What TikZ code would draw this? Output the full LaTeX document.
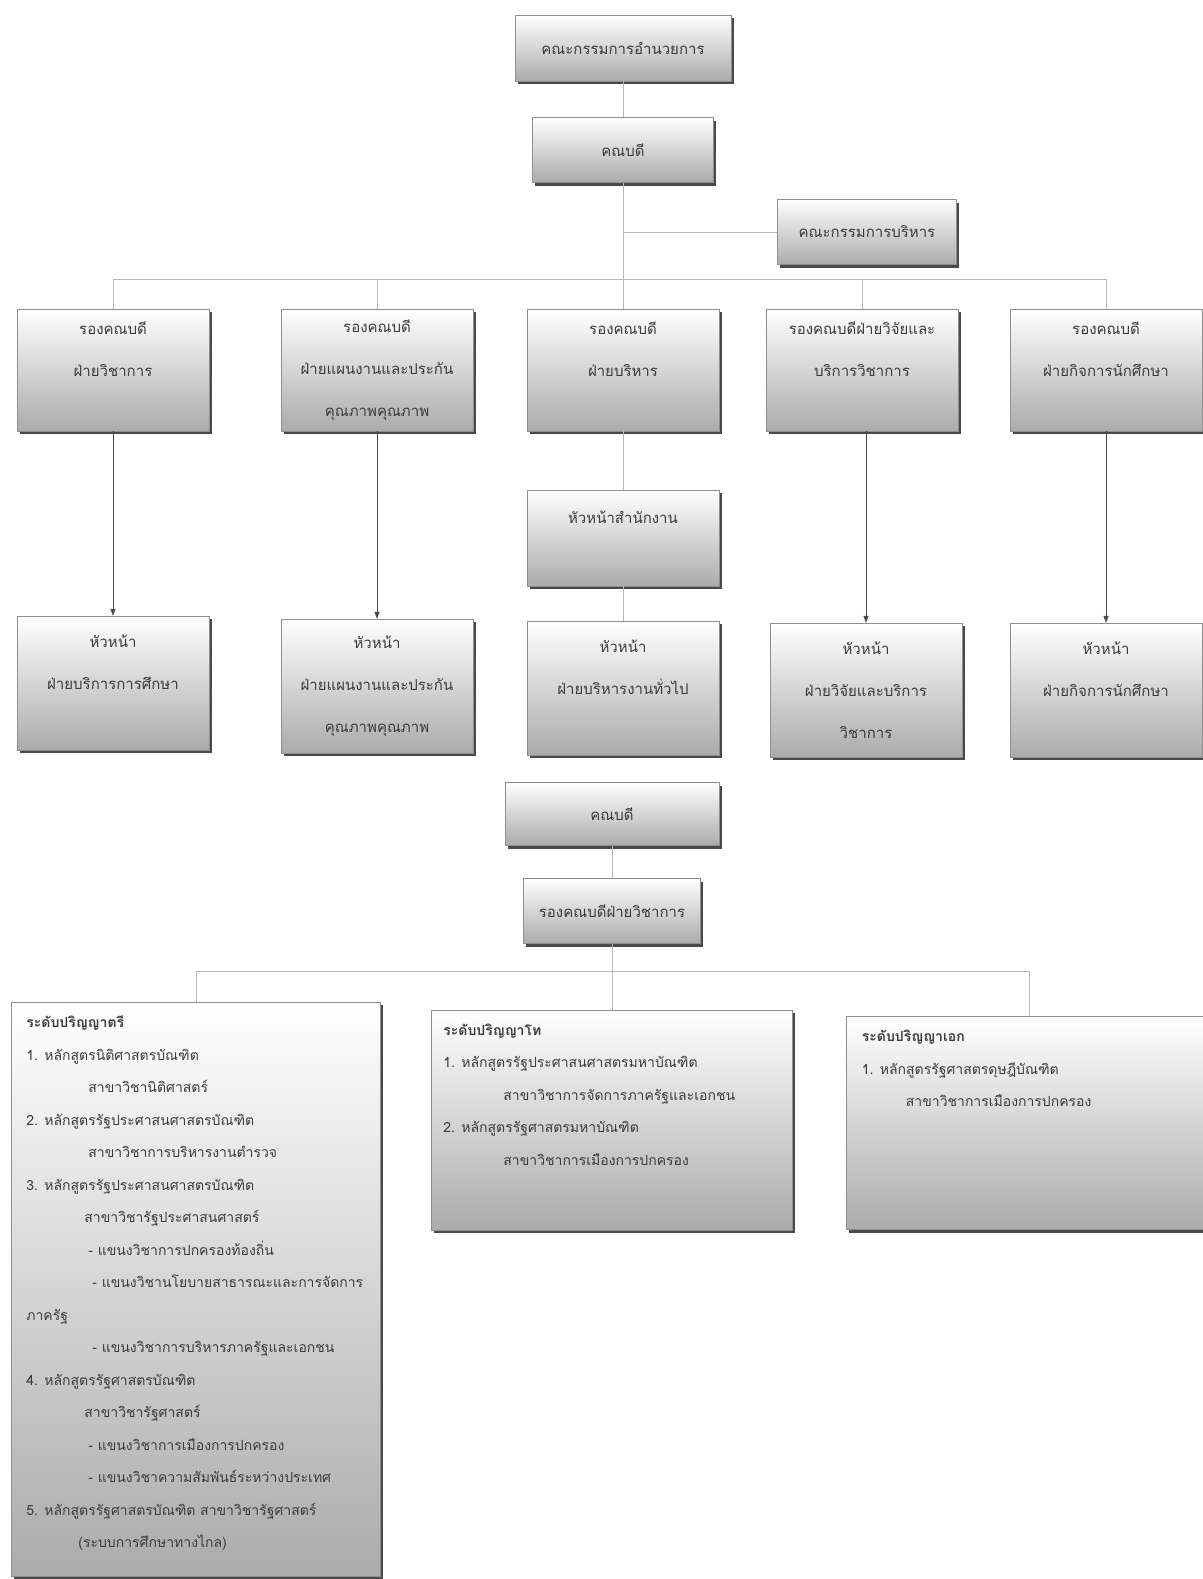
\documentclass[tikz,border=0pt]{standalone}
\usepackage{fontspec}
\newfontfamily\thaifont[Script=Thai]{Loma}
\usetikzlibrary{arrows.meta,positioning,shadows}
\definecolor{ink}{HTML}{3C3C3C}
\definecolor{edge}{HTML}{8E8E8E}
\definecolor{wire}{HTML}{B8B8B8}
\definecolor{deep}{HTML}{ABABAB}
\definecolor{dark}{HTML}{4A4A4A}
\tikzset{
  box/.style={draw=edge,line width=.6pt,top color=white,bottom color=deep,
    drop shadow={shadow xshift=2.5pt,shadow yshift=-3pt,fill=dark,opacity=1},
    align=center,text=ink,inner sep=2pt,font=\thaifont\fontsize{15}{42}\selectfont},
  head/.style={box,minimum width=192pt,minimum height=122pt},
  chief/.style={box,minimum width=192pt,minimum height=134pt},
  panel/.style={box},
  list/.style={anchor=north west,align=left,text=ink,inner sep=0pt,font=\thaifont\fontsize{14}{32.5}\selectfont},
  ln/.style={draw=wire,line width=.9pt},
  ar/.style={-{Triangle[length=2.4mm,width=1.8mm]},draw=dark,line width=.6pt},
}
\newcommand{\indnt}[1]{\hspace*{#1pt}}

\begin{document}
\begin{tikzpicture}[x=1pt,y=-1pt]
  \useasboundingbox[fill=white] (0,0) rectangle (1202,1579);
  \node[box,minimum width=216pt,minimum height=66pt] (board) at (623,48) {คณะกรรมการอำนวยการ};
  \node[box,minimum width=181pt,minimum height=65pt] (dean) at (623,150) {คณบดี};
  \node[box,minimum width=179pt,minimum height=65pt] (exec) at (867,232) {คณะกรรมการบริหาร};
  \coordinate (busL) at (113,279);
  \coordinate (busR) at (1106,279);
  \draw[ln] (board) -- (dean);
  \draw[ln] (dean) -- (dean |- busL);
  \draw[ln] (dean |- exec) -- (exec.west);
  \draw[ln] (busL) -- (busR);
  \foreach \i/\x/\txt in {1/113/{รองคณบดี\\ฝ่ายวิชาการ\\\mbox{}},
                          2/377/{รองคณบดี\\ฝ่ายแผนงานและประกัน\\คุณภาพคุณภาพ},
                          3/623/{รองคณบดี\\ฝ่ายบริหาร\\\mbox{}},
                          4/862/{รองคณบดีฝ่ายวิจัยและ\\บริการวิชาการ\\\mbox{}},
                          5/1106/{รองคณบดี\\ฝ่ายกิจการนักศึกษา\\\mbox{}}} {
    \node[head] (v\i) at (\x,370) {\txt};
    \draw[ln] (v\i.north) -- (v\i.north |- busL);
  }
  \node[box,minimum width=192pt,minimum height=96pt] (office) at (623,538) {หัวหน้าสำนักงาน\\\mbox{}};
  \node[chief] (h3) at (623,688) {หัวหน้า\\ฝ่ายบริหารงานทั่วไป\\\mbox{}};
  \draw[ln] (v3) -- (office);
  \draw[ln] (office) -- (h3);
  \foreach \i/\x/\y/\txt in {1/113/683/{หัวหน้า\\ฝ่ายบริการการศึกษา\\\mbox{}},
                             2/377/686/{หัวหน้า\\ฝ่ายแผนงานและประกัน\\คุณภาพคุณภาพ},
                             4/866/690/{หัวหน้า\\ฝ่ายวิจัยและบริการ\\วิชาการ},
                             5/1106/690/{หัวหน้า\\ฝ่ายกิจการนักศึกษา\\\mbox{}}} {
    \node[chief] (h\i) at (\x,\y) {\txt};
    \draw[ar] (v\i.south -| h\i) -- (h\i.north);
  }

  \node[box,minimum width=214pt,minimum height=63pt] (dean2) at (612,814) {คณบดี};
  \node[box,minimum width=177pt,minimum height=65pt] (acad) at (612,911) {รองคณบดีฝ่ายวิชาการ};
  \node[panel,minimum width=369pt,minimum height=574pt] (bach) at (196,1289) {};
  \node[panel,minimum width=361pt,minimum height=220pt] (mast) at (612,1120) {};
  \node[panel,minimum width=366pt,minimum height=213pt] (doct) at (1029,1123) {};
  \coordinate (bus2L) at (196,971);
  \coordinate (bus2R) at (1029,971);
  \draw[ln] (dean2) -- (acad);
  \draw[ln] (acad) -- (mast);
  \draw[ln] (bus2L) -- (bus2R);
  \draw[ln] (bus2L) -- (bach);
  \draw[ln] (bus2R) -- (doct);
  \node[list] (bachtxt) at ([shift={(15,14)}]bach.north west) {{\bfseries ระดับปริญญาตรี}\\
    1. หลักสูตรนิติศาสตรบัณฑิต\\
    \indnt{62}สาขาวิชานิติศาสตร์\\
    2. หลักสูตรรัฐประศาสนศาสตรบัณฑิต\\
    \indnt{62}สาขาวิชาการบริหารงานตำรวจ\\
    3. หลักสูตรรัฐประศาสนศาสตรบัณฑิต\\
    \indnt{58}สาขาวิชารัฐประศาสนศาสตร์\\
    \indnt{62}- แขนงวิชาการปกครองท้องถิ่น\\
    \indnt{66}- แขนงวิชานโยบายสาธารณะและการจัดการ\\
    ภาครัฐ\\
    \indnt{66}- แขนงวิชาการบริหารภาครัฐและเอกชน\\
    4. หลักสูตรรัฐศาสตรบัณฑิต\\
    \indnt{58}สาขาวิชารัฐศาสตร์\\
    \indnt{62}- แขนงวิชาการเมืองการปกครอง\\
    \indnt{62}- แขนงวิชาความสัมพันธ์ระหว่างประเทศ\\
    5. หลักสูตรรัฐศาสตรบัณฑิต สาขาวิชารัฐศาสตร์\\
    \indnt{52}(ระบบการศึกษาทางไกล)};
  \node[list] (masttxt) at ([shift={(12,14)}]mast.north west) {{\bfseries ระดับปริญญาโท}\\
    1. หลักสูตรรัฐประศาสนศาสตรมหาบัณฑิต\\
    \indnt{60}สาขาวิชาการจัดการภาครัฐและเอกชน\\
    2. หลักสูตรรัฐศาสตรมหาบัณฑิต\\
    \indnt{60}สาขาวิชาการเมืองการปกครอง};
  \node[list] (docttxt) at ([shift={(16,14)}]doct.north west) {{\bfseries ระดับปริญญาเอก}\\
    1. หลักสูตรรัฐศาสตรดุษฎีบัณฑิต\\
    \indnt{44}สาขาวิชาการเมืองการปกครอง};
\end{tikzpicture}
\end{document}
